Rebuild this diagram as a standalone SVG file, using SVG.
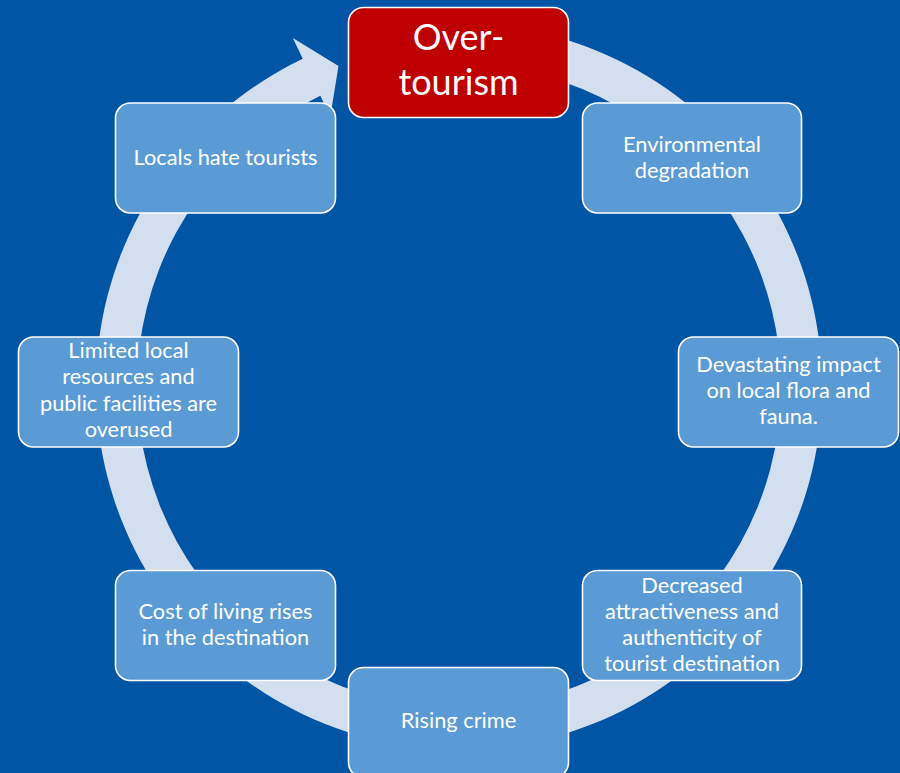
<svg xmlns="http://www.w3.org/2000/svg" width="900" height="773" viewBox="0 0 900 773">
<style>
.bg{fill:#0055A5}
.ring{fill:#D3DEEF}
.box{fill:#5B9BD5;stroke:#FFFFFF;stroke-width:1.6}
.hub{fill:#C00000;stroke:#FFFFFF;stroke-width:1.6}
text{font-family:Lato,"Liberation Sans",sans-serif;fill:#FFFFFF;text-anchor:middle}
.t{font-size:21.8px}
.h{font-size:36px}
</style>
<rect class="bg" x="0" y="0" width="900" height="773"/>
<g id="connectors">
<path class="ring" d="M395.96,29.01 A363,363 0 1 1 302.72,58.86 L292.82,38.10 L338.5,65.9 L330.28,116.63 L320.38,95.87 A322,322 0 1 0 403.08,69.39 Z"/>
</g>
<g id="n-overtourism">
<rect class="hub" x="348.5" y="7.5" width="220" height="110" rx="15"/>
<text class="h" x="458.5" y="50">Over-</text>
<text class="h" x="458.5" y="95">tourism</text>
</g>
<g id="n-environmental">
<rect class="box" x="582.5" y="103" width="219" height="110" rx="15"/>
<text class="t" x="692" y="152">Environmental</text>
<text class="t" x="692" y="177.5">degradation</text>
</g>
<g id="n-devastating">
<rect class="box" x="678.5" y="337" width="220" height="110" rx="15"/>
<text class="t" x="788.5" y="372.3">Devastating impact</text>
<text class="t" x="788.5" y="398.3">on local flora and</text>
<text class="t" x="788.5" y="424">fauna.</text>
</g>
<g id="n-decreased">
<rect class="box" x="582.5" y="570.5" width="219" height="110" rx="15"/>
<text class="t" x="692" y="593.3">Decreased</text>
<text class="t" x="692" y="619.3">attractiveness and</text>
<text class="t" x="692" y="645">authenticity of</text>
<text class="t" x="692" y="671">tourist destination</text>
</g>
<g id="n-crime">
<rect class="box" x="348.5" y="667.5" width="220" height="110" rx="15"/>
<text class="t" x="458.5" y="728">Rising crime</text>
</g>
<g id="n-cost">
<rect class="box" x="115.5" y="570.5" width="220" height="110" rx="15"/>
<text class="t" x="225.5" y="619">Cost of living rises</text>
<text class="t" x="225.5" y="645">in the destination</text>
</g>
<g id="n-limited">
<rect class="box" x="18.5" y="337" width="220" height="110" rx="15"/>
<text class="t" x="128.5" y="357.7">Limited local</text>
<text class="t" x="128.5" y="384.3">resources and</text>
<text class="t" x="128.5" y="410.7">public facilities are</text>
<text class="t" x="128.5" y="436.7">overused</text>
</g>
<g id="n-locals">
<rect class="box" x="115.5" y="103" width="220" height="110" rx="15"/>
<text class="t" x="225.5" y="165">Locals hate tourists</text>
</g>
</svg>
